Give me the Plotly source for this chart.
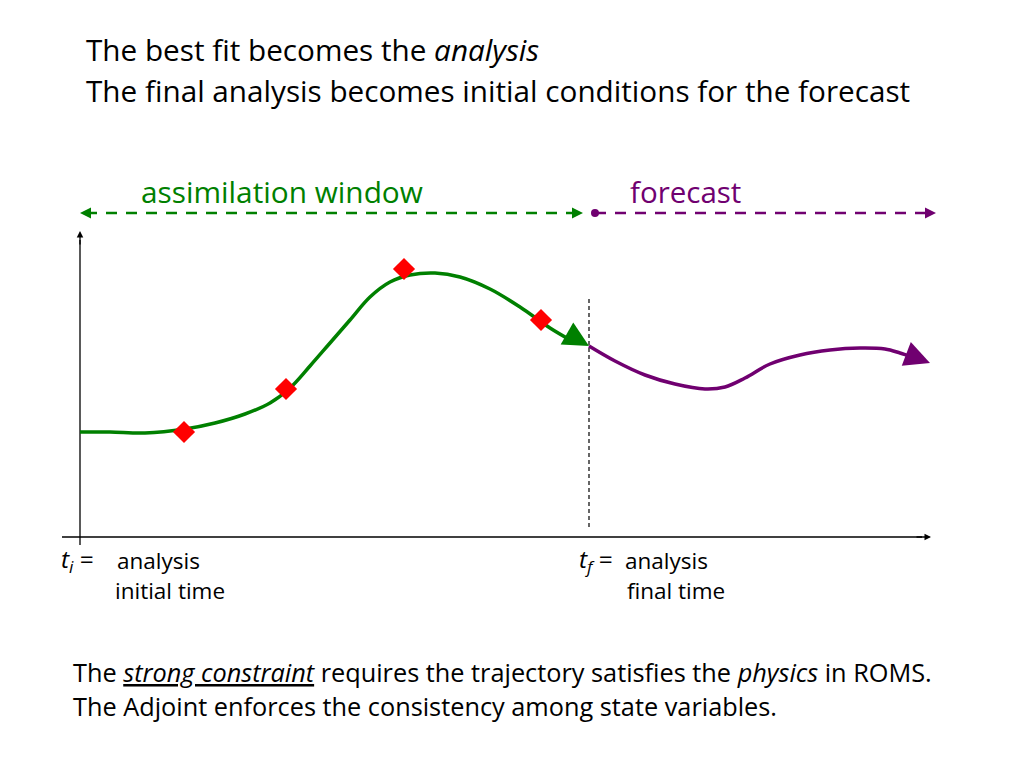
import plotly.graph_objects as go

GREEN = "rgb(0,128,0)"
PURPLE = "rgb(112,0,112)"
FONT = "Open Sans"

# Coordinates: x = horizontal position on the slide, y = height above the bottom of slide
# Assimilation trajectory (analysis)
analysis_t = [80, 110, 145, 185, 215, 245, 270, 290, 310, 330, 350, 370, 390, 410, 435, 460, 490, 520, 550, 572]
analysis_v = [336, 336, 335, 339, 345, 354, 365, 380, 402, 425, 448, 471, 486, 493, 495, 491, 479, 461, 440, 427]

# Forecast trajectory
forecast_t = [589, 615, 645, 675, 705, 725, 745, 770, 800, 830, 860, 885, 900, 912]
forecast_v = [422, 407, 393, 384, 379, 381, 390, 404, 413, 418, 420, 419, 415, 411]

# Observations
obs_t = [184, 286, 404, 541]
obs_v = [336, 379, 499, 448]

# Labels
title_lines = ["The best fit becomes the <i>analysis</i>",
               "The final analysis becomes initial conditions for the forecast"]
bottom_lines = ["The <i><u>strong constraint</u></i> requires the trajectory satisfies the <i>physics</i> in ROMS.",
                "The Adjoint enforces the consistency among state variables."]

fig = go.Figure()

# axes of the diagram
fig.add_trace(go.Scatter(x=[62, 922], y=[231, 231], mode="lines",
                         line=dict(color="black", width=1.3), hoverinfo="skip"))
fig.add_trace(go.Scatter(x=[80, 80], y=[223, 528], mode="lines",
                         line=dict(color="black", width=1.3), hoverinfo="skip"))
fig.add_annotation(x=931, y=231, ax=915, ay=231, xref="x", yref="y", axref="x", ayref="y",
                   showarrow=True, arrowhead=2, arrowsize=1, arrowwidth=1.3, arrowcolor="black", text="")
fig.add_annotation(x=80, y=537, ax=80, ay=522, xref="x", yref="y", axref="x", ayref="y",
                   showarrow=True, arrowhead=2, arrowsize=1, arrowwidth=1.3, arrowcolor="black", text="")

# vertical dashed line at tf
fig.add_trace(go.Scatter(x=[589, 589], y=[241, 470], mode="lines",
                         line=dict(color="black", width=1.2, dash="4px,3px"), hoverinfo="skip"))

# windows
fig.add_trace(go.Scatter(x=[86, 575], y=[555, 555], mode="lines",
                         line=dict(color=GREEN, width=2.6, dash="11px,9px"), hoverinfo="skip"))
fig.add_annotation(x=80, y=555, ax=92, ay=555, xref="x", yref="y", axref="x", ayref="y",
                   showarrow=True, arrowhead=2, arrowsize=1, arrowwidth=2.2, arrowcolor=GREEN, text="")
fig.add_annotation(x=583, y=555, ax=571, ay=555, xref="x", yref="y", axref="x", ayref="y",
                   showarrow=True, arrowhead=2, arrowsize=1, arrowwidth=2.2, arrowcolor=GREEN, text="")
fig.add_trace(go.Scatter(x=[595, 928], y=[555, 555], mode="lines",
                         line=dict(color=PURPLE, width=2.6, dash="11px,9px"), hoverinfo="skip"))
fig.add_trace(go.Scatter(x=[595], y=[555], mode="markers",
                         marker=dict(color=PURPLE, size=8), hoverinfo="skip"))
fig.add_annotation(x=936, y=555, ax=924, ay=555, xref="x", yref="y", axref="x", ayref="y",
                   showarrow=True, arrowhead=2, arrowsize=1, arrowwidth=2.2, arrowcolor=PURPLE, text="")

# trajectories
fig.add_trace(go.Scatter(x=analysis_t, y=analysis_v, mode="lines", line=dict(color=GREEN, width=3.5, shape="spline"),
                         hoverinfo="skip"))
fig.add_annotation(x=589, y=422, ax=568, ay=434, xref="x", yref="y", axref="x", ayref="y",
                   showarrow=True, arrowhead=2, arrowsize=1.45, arrowwidth=3.5, arrowcolor=GREEN, text="")
fig.add_trace(go.Scatter(x=forecast_t, y=forecast_v, mode="lines", line=dict(color=PURPLE, width=3.5, shape="spline"),
                         hoverinfo="skip"))
fig.add_annotation(x=930, y=405, ax=909, ay=413, xref="x", yref="y", axref="x", ayref="y",
                   showarrow=True, arrowhead=2, arrowsize=1.45, arrowwidth=3.5, arrowcolor=PURPLE, text="")

# observations
fig.add_trace(go.Scatter(x=obs_t, y=obs_v, mode="markers",
                         marker=dict(symbol="diamond", color="red", size=17), hoverinfo="skip"))

def txt(x, y, s, size, color="black"):
    fig.add_annotation(x=x, y=y, xref="x", yref="y", text=s, showarrow=False,
                       xanchor="left", yanchor="middle",
                       font=dict(family=FONT, size=size, color=color))

txt(84, 719, title_lines[0], 29.7)
txt(84, 678, title_lines[1], 29.7)
txt(139, 577, "assimilation window", 29.8, GREEN)
txt(628, 577, "forecast", 29.5, PURPLE)
txt(59, 208, "<i>t<sub>i</sub></i> = ", 24.5)
txt(115, 208, "analysis", 22.5)
txt(113, 178, "initial time", 22.5)
txt(577, 208, "<i>t<sub>f</sub></i> =", 24.5)
txt(623, 208, "analysis", 22.5)
txt(625, 178, "final time", 22.5)
txt(71, 96, bottom_lines[0], 25.3)
txt(71, 62, bottom_lines[1], 25.3)

# page body has an 8px margin: shift ranges so positions land where intended
fig.update_layout(width=1024, height=768, margin=dict(l=0, r=0, t=0, b=0),
                  paper_bgcolor="white", plot_bgcolor="white", showlegend=False,
                  xaxis=dict(range=[8, 1032], visible=False, fixedrange=True),
                  yaxis=dict(range=[-8, 760], visible=False, fixedrange=True))

fig.write_html("out.html")
